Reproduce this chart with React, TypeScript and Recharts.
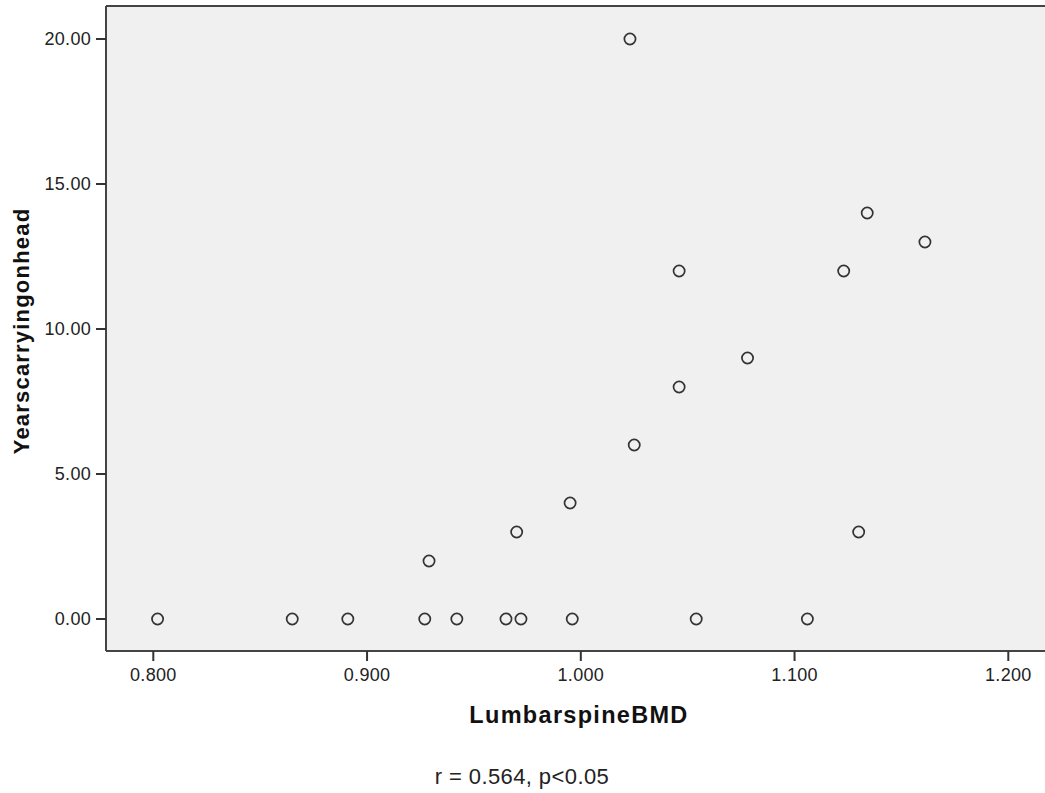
import React from "react";
import { ScatterChart, Scatter, XAxis, YAxis, CartesianGrid, ReferenceLine, Customized } from "recharts";

const lumbarBMD = [0.802, 0.865, 0.891, 0.927, 0.942, 0.965, 0.972, 0.996, 1.054, 1.106, 0.929, 0.970, 0.995, 1.025, 1.046, 1.046, 1.023, 1.078, 1.123, 1.134, 1.161, 1.130];
const yearsCarrying = [0, 0, 0, 0, 0, 0, 0, 0, 0, 0, 2, 3, 4, 6, 8, 12, 20, 9, 12, 14, 13, 3];
const xTicks = [0.8, 0.9, 1.0, 1.1, 1.2];
const yTicks = [0, 5, 10, 15, 20];
const xTitle = "LumbarspineBMD";
const yTitle = "Yearscarryingonhead";
const footnote = "r = 0.564, p<0.05";

const X_DOMAIN: [number, number] = [0.77787, 1.21717];
const Y_DOMAIN: [number, number] = [-1.1034, 21.138];

const data = lumbarBMD.map((x, i) => ({ x, y: yearsCarrying[i] }));

const FONT = "'Liberation Sans', Arial, sans-serif";

const XTick = (props: any) => {
  const { x, y, payload } = props;
  return (
    <text x={x} y={y + 18} textAnchor="middle" fontFamily={FONT} fontSize={18} letterSpacing={0.3} fill="#222">
      {Number(payload.value).toFixed(3)}
    </text>
  );
};

const YTick = (props: any) => {
  const { x, y, payload } = props;
  return (
    <text x={x - 3} y={y} dy="0.36em" textAnchor="end" fontFamily={FONT} fontSize={18} letterSpacing={0.3} fill="#222">
      {Number(payload.value).toFixed(2)}
    </text>
  );
};

const Marker = (props: any) => {
  const { cx, cy } = props;
  return <circle cx={cx} cy={cy} r={5.6} fill="none" stroke="#333" strokeWidth={1.7} />;
};

const Titles = () => (
  <g>
    <text x={579} y={723} textAnchor="middle" fontFamily={FONT} fontWeight="bold" fontSize={23.5} letterSpacing={1.3} fill="#111">
      {xTitle}
    </text>
    <text
      x={0}
      y={0}
      transform="translate(29,331) rotate(-90)"
      textAnchor="middle"
      fontFamily={FONT}
      fontWeight="bold"
      fontSize={22}
      letterSpacing={1.2}
      fill="#111"
    >
      {yTitle}
    </text>
    <text x={522} y={784} textAnchor="middle" fontFamily={FONT} fontSize={22} letterSpacing={0.4} fill="#222">
      {footnote}
    </text>
  </g>
);

export default function App() {
  return (
    <div style={{ position: "absolute", left: 0, top: 0, width: 1045, height: 793, background: "#fff" }}>
      <ScatterChart width={1045} height={793} margin={{ top: 6, right: 0, left: 0, bottom: 112 }}>
        <CartesianGrid fill="#F0F0F0" horizontal={false} vertical={false} />
        <XAxis
          type="number"
          dataKey="x"
          domain={X_DOMAIN}
          ticks={xTicks}
          allowDataOverflow
          height={30}
          tickSize={10}
          tickLine={{ stroke: "#333", strokeWidth: 2 }}
          axisLine={{ stroke: "#444", strokeWidth: 2 }}
          tick={<XTick />}
        />
        <YAxis
          type="number"
          dataKey="y"
          domain={Y_DOMAIN}
          ticks={yTicks}
          allowDataOverflow
          width={106}
          tickSize={10}
          tickLine={{ stroke: "#333", strokeWidth: 2 }}
          axisLine={{ stroke: "#444", strokeWidth: 2 }}
          tick={<YTick />}
        />
        <ReferenceLine y={Y_DOMAIN[1]} stroke="#444" strokeWidth={2} ifOverflow="extendDomain" />
        <Scatter data={data} isAnimationActive={false} shape={<Marker />} />
        <Customized component={Titles} />
      </ScatterChart>
    </div>
  );
}
